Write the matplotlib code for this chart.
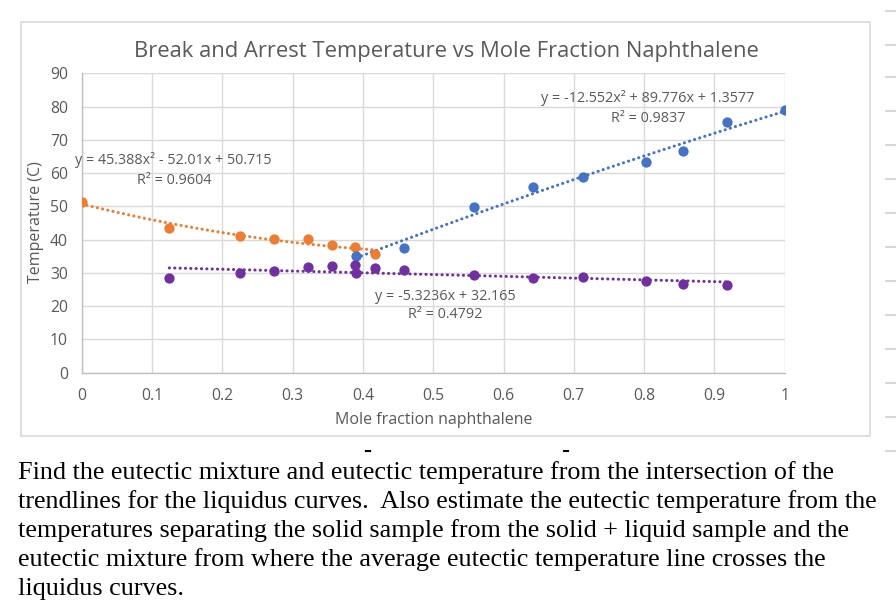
import numpy as np
import matplotlib
matplotlib.use("Agg")
import matplotlib.pyplot as plt
from matplotlib.patches import Rectangle
from matplotlib.lines import Line2D

# ---- data ----
orange_x = [0.0, 0.1247, 0.2257, 0.2737, 0.3225, 0.3567, 0.3885, 0.4179]
orange_y = [51.4, 43.4, 41.2, 40.3, 40.1, 38.3, 37.8, 35.8]

blue_x = [0.3908, 0.459, 0.5583, 0.6422, 0.7124, 0.803, 0.856, 0.9183, 1.0]
blue_y = [35.1, 37.4, 49.7, 55.9, 58.8, 63.4, 66.7, 75.4, 78.9]

purple_x = [0.1247, 0.2257, 0.2737, 0.3225, 0.3567, 0.3885, 0.3908, 0.4179, 0.459,
            0.5583, 0.6422, 0.7124, 0.803, 0.856, 0.9183]
purple_y = [28.5, 30.0, 30.6, 31.9, 32.0, 32.3, 29.9, 31.4, 30.8,
            29.5, 28.5, 28.8, 27.6, 26.8, 26.3]

# trendline coefficients (as shown on chart)
orange_fit = [45.388, -52.01, 50.715]
blue_fit = [-12.552, 89.776, 1.3577]
purple_fit = [-5.3236, 32.165]

x_ticks = [0, 0.1, 0.2, 0.3, 0.4, 0.5, 0.6, 0.7, 0.8, 0.9, 1]
x_tick_labels = ["0", "0.1", "0.2", "0.3", "0.4", "0.5", "0.6", "0.7", "0.8", "0.9", "1"]
y_ticks = [0, 10, 20, 30, 40, 50, 60, 70, 80, 90]

title = "Break and Arrest Temperature vs Mole Fraction Naphthalene"
xlabel = "Mole fraction naphthalene"
ylabel = "Temperature (C)"

body_lines = [
    "Find the eutectic mixture and eutectic temperature from the intersection of the",
    "trendlines for the liquidus curves.  Also estimate the eutectic temperature from the",
    "temperatures separating the solid sample from the solid + liquid sample and the",
    "eutectic mixture from where the average eutectic temperature line crosses the",
    "liquidus curves.",
]

ORANGE = "#ED7D31"
BLUE = "#4472C4"
PURPLE = "#7030A0"
TXT = "#595959"
GRID = "#D9D9D9"

W, H = 896, 612
fig = plt.figure(figsize=(W / 100, H / 100), dpi=100)
fig.patch.set_facecolor("white")
plt.rcParams["font.family"] = ["Open Sans", "DejaVu Sans"]

def fx(px):
    return px / W

def fy(py):
    return 1 - py / H

# chart border
fig.patches.append(Rectangle((fx(21), fy(436)), fx(870) - fx(21), fy(22) - fy(436),
                             transform=fig.transFigure, fill=False,
                             edgecolor=GRID, linewidth=1.2))

# right-side row marks
for py in [11, 44.7, 77, 111, 145, 179, 212.7, 247, 281, 315, 349, 383, 417, 451]:
    fig.add_artist(Line2D([fx(886), fx(896)], [fy(py), fy(py)],
                          transform=fig.transFigure, color="#D0D0D0", lw=1.2))

ax = fig.add_axes([fx(81.7), fy(372.7), fx(784.7) - fx(81.7), fy(73.3) - fy(372.7)])
ax.set_xlim(0, 1)
ax.set_ylim(0, 90)
ax.set_xticks(x_ticks)
ax.set_xticklabels(x_tick_labels)
ax.set_yticks(y_ticks)
ax.grid(True, color=GRID, linewidth=1)
ax.set_axisbelow(True)
for s in ["top", "right"]:
    ax.spines[s].set_visible(False)
for s in ["left", "bottom"]:
    ax.spines[s].set_color("#BFBFBF")
    ax.spines[s].set_linewidth(1)
ax.tick_params(length=0, colors=TXT, labelsize=11.3)
ax.tick_params(axis="x", pad=11)
ax.tick_params(axis="y", pad=10)

ls = (0, (0.05, 1.7))
# trendlines
xo = np.linspace(min(orange_x), max(orange_x), 100)
ax.plot(xo, np.polyval(orange_fit, xo), color=ORANGE, lw=2.2, linestyle=ls,
        dash_capstyle="round", zorder=2)
xb = np.linspace(min(blue_x), max(blue_x), 100)
ax.plot(xb, np.polyval(blue_fit, xb), color=BLUE, lw=2.2, linestyle=ls,
        dash_capstyle="round", zorder=2)
xp = np.linspace(min(purple_x), max(purple_x), 100)
ax.plot(xp, np.polyval(purple_fit, xp), color=PURPLE, lw=2.2, linestyle=ls,
        dash_capstyle="round", zorder=2)

ms = 7.4
ax.plot(orange_x, orange_y, "o", color=ORANGE, ms=ms, mec="none", zorder=3)
ax.plot(blue_x, blue_y, "o", color=BLUE, ms=ms, mec="none", zorder=3)
ax.plot(purple_x, purple_y, "o", color=PURPLE, ms=ms, mec="none", zorder=3)

# equations (figure pixel positions)
def ftext(px, py, s, **kw):
    fig.text(fx(px), fy(py), s, color=TXT, fontsize=10.4, va="center", **kw)

ftext(75, 160, "y = 45.388x² - 52.01x + 50.715", ha="left")
ftext(174, 180, "R² = 0.9604", ha="center")
ftext(754, 98, "y = -12.552x² + 89.776x + 1.3577", ha="right")
ftext(648, 118, "R² = 0.9837", ha="center")
ftext(375, 296, "y = -5.3236x + 32.165", ha="left")
ftext(445, 315, "R² = 0.4792", ha="center")

fig.text(fx(446.5), fy(51), title, color=TXT, fontsize=15.8, ha="center", va="center")
fig.text(fx(433.5), fy(420), xlabel, color=TXT, fontsize=11.5, ha="center", va="center")
fig.text(fx(36), fy(222), ylabel, color=TXT, fontsize=11.5, ha="center", va="center",
         rotation=90)

# body text
for i, line in enumerate(body_lines):
    fig.text(fx(18), fy(473 + i * 29), line, color="black", fontsize=18.8,
             family=["Liberation Serif", "DejaVu Serif"], ha="left", va="center")

# cropped fragments of previous line
fig.add_artist(Line2D([fx(366), fx(370)], [fy(451), fy(451)], transform=fig.transFigure,
                      color="black", lw=1.5))
fig.add_artist(Line2D([fx(564), fx(568)], [fy(451), fy(451)], transform=fig.transFigure,
                      color="black", lw=1.5))

fig.savefig("out.png", dpi=100)
